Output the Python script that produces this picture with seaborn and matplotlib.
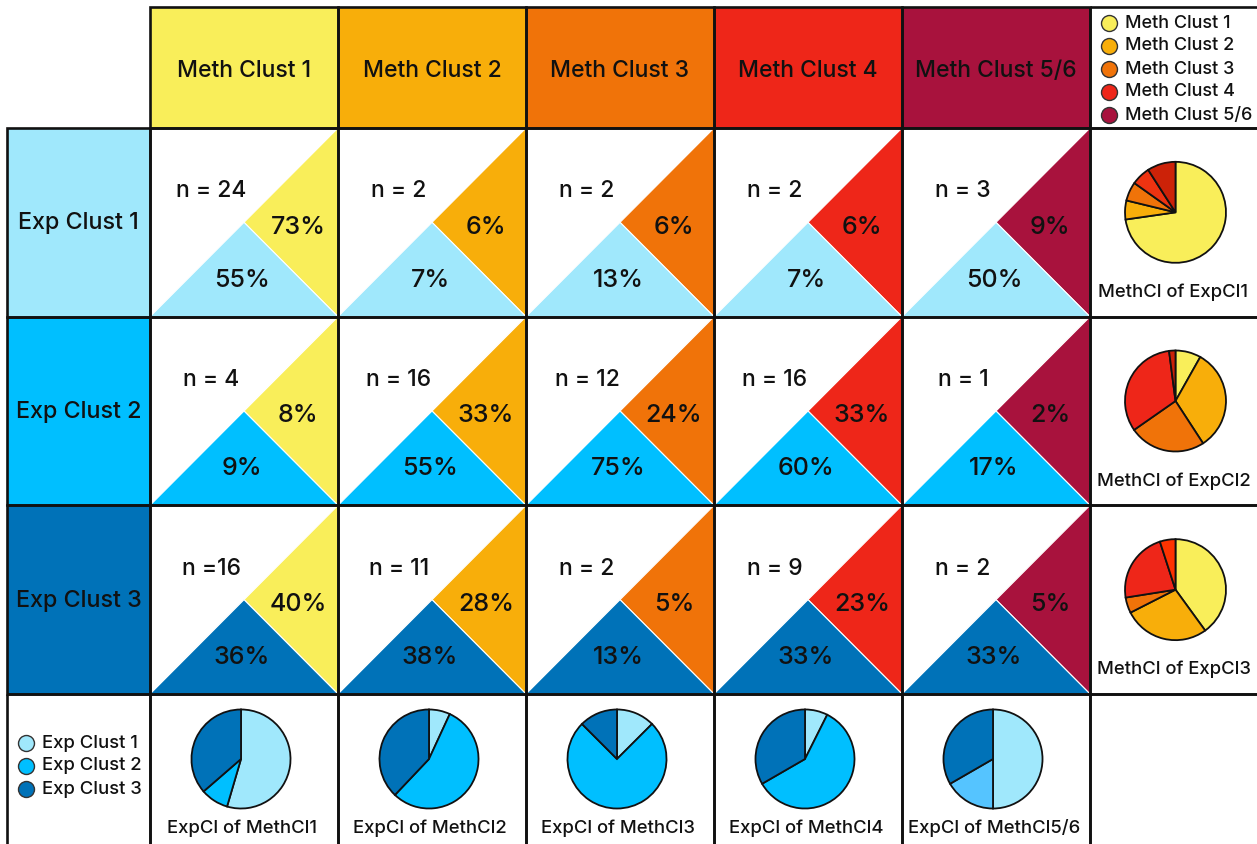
import numpy as np
import pandas as pd
import matplotlib
matplotlib.use("Agg")
import matplotlib.pyplot as plt
import seaborn as sns
from matplotlib.patches import Rectangle, Polygon

sns.set_theme(style="white")
plt.rcParams['font.family'] = ['Inter', 'Liberation Sans', 'DejaVu Sans']
plt.rcParams['font.weight'] = 'medium'

# ---- data ----
meth_names = ["Meth Clust 1", "Meth Clust 2", "Meth Clust 3", "Meth Clust 4", "Meth Clust 5/6"]
exp_names = ["Exp Clust 1", "Exp Clust 2", "Exp Clust 3"]
meth_short = ["MethCl1", "MethCl2", "MethCl3", "MethCl4", "MethCl5/6"]
exp_short = ["ExpCl1", "ExpCl2", "ExpCl3"]

counts_exp1 = [24, 2, 2, 2, 3]
counts_exp2 = [4, 16, 12, 16, 1]
counts_exp3 = [16, 11, 2, 9, 2]

# share of the row (exp cluster) that falls in each meth cluster
row_pct_exp1 = [73, 6, 6, 6, 9]
row_pct_exp2 = [8, 33, 24, 33, 2]
row_pct_exp3 = [40, 28, 5, 23, 5]

# share of the column (meth cluster) that falls in each exp cluster
col_pct_exp1 = [55, 7, 13, 7, 50]
col_pct_exp2 = [9, 55, 75, 60, 17]
col_pct_exp3 = [36, 38, 13, 33, 33]

n_labels_exp1 = ["n = 24", "n = 2", "n = 2", "n = 2", "n = 3"]
n_labels_exp2 = ["n = 4", "n = 16", "n = 12", "n = 16", "n = 1"]
n_labels_exp3 = ["n =16", "n = 11", "n = 2", "n = 9", "n = 2"]

meth_colors = ["#F9EE5A", "#F8AE0A", "#F07309", "#EE2619", "#A8123D"]
exp_colors = ["#A0E8FC", "#00BFFF", "#0072B8"]
# the small pies were coloured slightly differently in the original
meth_pie_colors = [["#F9EE5A", "#F8AE0A", "#F07309", "#EE3311", "#CC2208"],
                   ["#F9EE5A", "#F8AE0A", "#F07309", "#EE2619", "#CC2208"],
                   ["#F9EE5A", "#F8AE0A", "#F07309", "#EE2619", "#FF3300"]]
exp_pie_colors = [exp_colors, exp_colors, exp_colors, exp_colors,
                  ["#A0E8FC", "#55C4FF", "#0072B8"]]

counts = pd.DataFrame([counts_exp1, counts_exp2, counts_exp3], index=exp_names, columns=meth_names)
row_pct = [row_pct_exp1, row_pct_exp2, row_pct_exp3]
col_pct = [col_pct_exp1, col_pct_exp2, col_pct_exp3]
n_labels = [n_labels_exp1, n_labels_exp2, n_labels_exp3]

# ---- layout (pixels) ----
W, H = 1257, 844
left0, grid_x0, grid_x1 = 7, 150, 1090
top0, grid_y0, grid_y1 = 7, 128, 694
cw = (grid_x1 - grid_x0) / 5
ch = (grid_y1 - grid_y0) / 3
lw = 1.9
edge = "#111111"
txt = "#111111"

fig = plt.figure(figsize=(W / 100, H / 100), dpi=100)
ax = fig.add_axes([0, 0, 1, 1])
ax.set_xlim(0, W)
ax.set_ylim(H, 0)
ax.axis("off")


def box(x0, y0, x1, y1, fc="white"):
    ax.add_patch(Rectangle((x0, y0), x1 - x0, y1 - y0, facecolor=fc, edgecolor="none", zorder=1))
    ax.add_patch(Rectangle((x0, y0), x1 - x0, y1 - y0, facecolor="none", edgecolor=edge, lw=lw, zorder=5))


def pie_at(cx, cy, r, values, colors):
    pax = fig.add_axes([(cx - r) / W, 1 - (cy + r) / H, 2 * r / W, 2 * r / H])
    pax.pie(values, colors=colors, startangle=90, counterclock=False,
            wedgeprops=dict(edgecolor="#111111", linewidth=1.3))
    pax.set_xlim(-1.03, 1.03)
    pax.set_ylim(-1.03, 1.03)
    pax.set_aspect("equal")
    pax.axis("off")


# header row
for j, name in enumerate(meth_names):
    x0 = grid_x0 + j * cw
    box(x0, top0, x0 + cw, grid_y0, meth_colors[j])
    ax.text(x0 + cw / 2, 71, name, ha="center", va="center", fontsize=16.5, color=txt, zorder=6)

# row headers
for i, name in enumerate(exp_names):
    y0 = grid_y0 + i * ch
    box(left0, y0, grid_x0, y0 + ch, exp_colors[i])
    ax.text((left0 + grid_x0) / 2, y0 + ch / 2 + 1, name, ha="center", va="center", fontsize=16.8,
            color=txt, zorder=6)

# main cells
for i in range(3):
    for j in range(5):
        x0 = grid_x0 + j * cw
        y0 = grid_y0 + i * ch
        x1, y1 = x0 + cw, y0 + ch
        cx, cy = (x0 + x1) / 2, (y0 + y1) / 2
        box(x0, y0, x1, y1)
        ax.add_patch(Polygon([(x1, y0), (x1, y1), (cx, cy)], closed=True, facecolor=meth_colors[j],
                             edgecolor="white", lw=0.8, zorder=2))
        ax.add_patch(Polygon([(x0, y1), (x1, y1), (cx, cy)], closed=True, facecolor=exp_colors[i],
                             edgecolor="white", lw=0.8, zorder=2))
        ax.text(cx - 33, cy - 31, n_labels[i][j], ha="center", va="center", fontsize=16.5, color=txt, zorder=6)
        ax.text(cx + 54, cy + 5, f"{row_pct[i][j]}%", ha="center", va="center", fontsize=18,
                color=txt, zorder=6)
        ax.text(cx - 2, cy + 58, f"{col_pct[i][j]}%", ha="center", va="center", fontsize=18,
                color=txt, zorder=6)

# right column: meth legend + pies per exp cluster
rx0, rx1 = grid_x1, W + 10
box(rx0, top0, rx1, grid_y0)
for k, name in enumerate(meth_names):
    yy = 23 + k * 23
    ax.plot(1109, yy, "o", ms=11.5, mfc=meth_colors[k], mec="#333333", mew=1, zorder=6)
    ax.text(1125, yy, name, ha="left", va="center", fontsize=13, color=txt, zorder=6)

for i in range(3):
    y0 = grid_y0 + i * ch
    box(rx0, y0, rx1, y0 + ch)
    cy = y0 + ch / 2
    pie_at((rx0 + W) / 2 + 2, cy - 10, 52, counts.iloc[i].values, meth_pie_colors[i])
    ax.text((rx0 + W) / 2, cy + 70, f"MethCl of {exp_short[i]}", ha="center", va="center",
            fontsize=13.3, color=txt, zorder=6)

# bottom row: exp legend + pies per meth cluster
by0, by1 = grid_y1, H + 10
box(left0, by0, grid_x0, by1)
for k, name in enumerate(exp_names):
    yy = 743 + k * 23
    ax.plot(26, yy, "o", ms=11.5, mfc=exp_colors[k], mec="#333333", mew=1, zorder=6)
    ax.text(42, yy, name, ha="left", va="center", fontsize=13.3, color=txt, zorder=6)

for j in range(5):
    x0 = grid_x0 + j * cw
    box(x0, by0, x0 + cw, by1)
    cx = x0 + cw / 2
    pie_at(cx - 3, 759, 51, counts.iloc[:, j].values, exp_pie_colors[j])
    ax.text(cx - 2, 828, f"ExpCl of {meth_short[j]}", ha="center", va="center", fontsize=13.3,
            color=txt, zorder=6)
box(grid_x1, by0, rx1, by1)

fig.savefig("out.png", dpi=100)
